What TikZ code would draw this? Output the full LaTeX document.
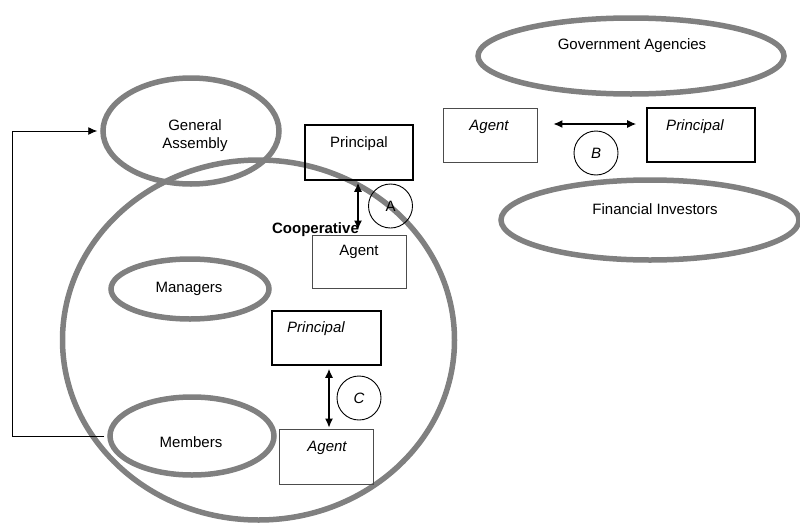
\documentclass[tikz,border=0pt]{standalone}
\usepackage{fontspec}
\setmainfont{Liberation Sans}
\usetikzlibrary{shapes.geometric,arrows.meta}
\definecolor{ringgray}{HTML}{808080}
\tikzset{
  ring/.style={ellipse, draw=ringgray, line width=5.5pt, inner sep=0pt},
  strongbox/.style={rectangle, draw=black, line width=1.6pt, inner sep=0pt},
  weakbox/.style={rectangle, draw=black!70, line width=0.8pt, inner sep=0pt},
  txt/.style={font=\fontsize{15}{17.5}\selectfont, inner sep=0pt, yshift=-1.5pt},
  itxt/.style={txt, font=\fontsize{15}{17.5}\selectfont\itshape},
  tag/.style={circle, draw=black, line width=0.9pt, minimum size=44pt, inner sep=0pt, font=\fontsize{15}{17.5}\selectfont},
  itag/.style={tag, font=\fontsize{15}{17.5}\selectfont\itshape},
  dbl/.style={{Latex[length=9pt,width=8pt]}-{Latex[length=9pt,width=8pt]}, line width=1.3pt},
  fbk/.style={-{Latex[length=9pt,width=8pt]}, line width=0.9pt}
}
\begin{document}
\begin{tikzpicture}[x=1pt,y=-1pt]
\useasboundingbox (0,0) rectangle (800,525);

% the cooperative and the groups inside and around it
\node[ring, minimum width=392pt, minimum height=360pt] (coop) at (258.5,340) {};
\node[ring, minimum width=176pt, minimum height=106pt] (ga) at (191,131) {};
\node[txt, align=center] (gat) at (195,134) {General\\Assembly};
\node[ring, minimum width=158pt, minimum height=60pt] (man) at (190,289) {};
\node[txt] (mant) at (189,287) {Managers};
\node[ring, minimum width=164pt, minimum height=78pt] (mem) at (192,436) {};
\node[txt] (memt) at (191,441) {Members};
\node[ring, minimum width=306pt, minimum height=76pt] (gov) at (631,56) {};
\node[txt] (govt) at (632,44) {Government Agencies};
\node[ring, minimum width=298pt, minimum height=80pt] (fin) at (650,220) {};
\node[txt] (fint) at (655,208) {Financial Investors};

\node[txt, font=\fontsize{15}{17.5}\selectfont\bfseries] (coopt) at (315.5,228) {Cooperative};

% relation A
\node[strongbox, minimum width=108pt, minimum height=55pt] (pa) at (359,152.5) {};
\node[txt] (pat) at (359,142) {Principal};
\node[weakbox, minimum width=94pt, minimum height=53pt] (aa) at (359,261.5) {};
\node[txt] (aat) at (359,250) {Agent};
\draw[dbl, shorten <=2pt, shorten >=5pt] ([xshift=-1pt]pa.south) -- ([xshift=-1pt]aa.north);
\node[tag] (ta) at (390.5,206) {A};

% relation B
\node[weakbox, minimum width=94pt, minimum height=54pt] (ab) at (490,135) {};
\node[itxt] (abt) at (489,125) {Agent};
\node[strongbox, minimum width=108pt, minimum height=54pt] (pb) at (701,135) {};
\node[itxt] (pbt) at (695,125) {Principal};
\draw[dbl, shorten <=16pt, shorten >=10pt] ([yshift=11pt]ab.east) -- ([yshift=11pt]pb.west);
\node[itag] (tb) at (596,153) {B};

% relation C
\node[strongbox, minimum width=109pt, minimum height=54pt] (pc) at (326.5,338) {};
\node[itxt] (pct) at (316,327) {Principal};
\node[weakbox, minimum width=94pt, minimum height=55pt] (ac) at (326.5,456.5) {};
\node[itxt] (act) at (327,446) {Agent};
\draw[dbl, shorten <=3pt, shorten >=1pt] ([xshift=2.5pt]pc.south) -- ([xshift=2.5pt]ac.north);
\node[itag] (tc) at (359,398) {C};

% members elect the general assembly
\coordinate (corner) at (12,131);
\draw[fbk, shorten >=3pt] ([xshift=-3pt]mem.west) -| (corner) -- (ga.west);
\end{tikzpicture}
\end{document}
